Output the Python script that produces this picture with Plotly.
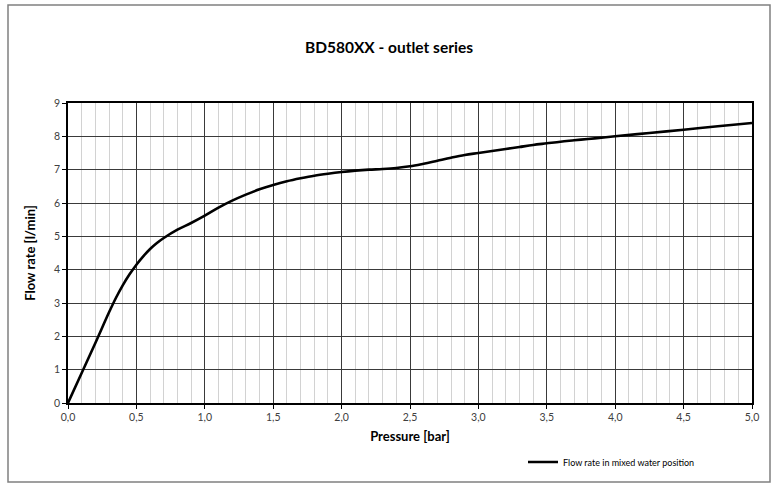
import plotly.graph_objects as go

pressure = [0, 0.1, 0.2, 0.3, 0.35, 0.4, 0.45, 0.5, 0.55, 0.6, 0.65, 0.7, 0.8, 0.9, 1.0,
            1.1, 1.2, 1.3, 1.4, 1.5, 1.6, 1.7, 1.8, 1.9, 2.0, 2.1, 2.2, 2.3, 2.4, 2.5,
            2.6, 2.7, 2.8, 2.9, 3.0, 3.1, 3.2, 3.3, 3.4, 3.5, 3.6, 3.7, 3.8, 3.9, 4.0,
            4.25, 4.5, 4.75, 5.0]
flow = [0, 0.9, 1.8, 2.72, 3.15, 3.53, 3.86, 4.15, 4.4, 4.62, 4.8, 4.95, 5.2, 5.4, 5.62,
        5.86, 6.07, 6.25, 6.41, 6.54, 6.65, 6.74, 6.82, 6.88, 6.93, 6.97, 7.0, 7.02, 7.05, 7.1,
        7.18, 7.27, 7.36, 7.44, 7.5, 7.56, 7.62, 7.68, 7.74, 7.79, 7.84, 7.88, 7.92, 7.96, 8.0,
        8.1, 8.2, 8.3, 8.4]

series_name = "Flow rate in mixed water position"
title = "BD580XX - outlet series"
x_title = "Pressure [bar]"
y_title = "Flow rate [l/min]"

FONT = "Lato"

fig = go.Figure()
fig.add_trace(go.Scatter(x=pressure, y=flow, mode="lines", name=series_name,
                         line=dict(color="black", width=2.6, shape="spline", smoothing=1)))

W, H = 780, 493
L, R, T, B = 68, 28, 103, 90
pw, ph = W - L - R, H - T - B

def px(xp):
    return (xp - L) / pw

def py(yp):
    return (H - B - yp) / ph

fig.update_layout(
    width=W, height=H,
    margin=dict(l=L, r=R, t=T, b=B),
    paper_bgcolor="white", plot_bgcolor="white",
    separators=",.",
    font=dict(family=FONT, color="#404040"),
    title=dict(text="<b>" + title + "</b>", x=389 / W, xref="container", xanchor="center",
               y=1 - 48 / H, yref="container", yanchor="middle",
               font=dict(family=FONT, size=15.5, color="black")),
    showlegend=True,
    legend=dict(x=px(523), y=py(462), xanchor="left", yanchor="middle",
                font=dict(family=FONT, size=9, color="black"),
                bgcolor="rgba(0,0,0,0)", itemwidth=30),
    xaxis=dict(range=[0, 5], dtick=0.5, tick0=0, tickformat=".1f",
               showgrid=True, gridcolor="#3a3a3a", gridwidth=1,
               minor=dict(dtick=0.1, showgrid=True, gridcolor="#d2d2d2", gridwidth=1.3),
               showline=True, linecolor="black", linewidth=1.5, mirror=True,
               ticks="outside", ticklen=4, tickcolor="black",
               zeroline=False, tickfont=dict(size=10.5, color="#404040"),
               title=dict(text="<b>" + x_title + "</b>", standoff=10,
                          font=dict(size=13, color="black"))),
    yaxis=dict(range=[0, 9], dtick=1, tick0=0,
               showgrid=True, gridcolor="#3a3a3a", gridwidth=1,
               showline=True, linecolor="black", linewidth=1.5, mirror=True,
               ticks="outside", ticklen=4, tickcolor="black",
               zeroline=False, tickfont=dict(size=10.5, color="#404040"),
               title=dict(text="<b>" + y_title + "</b>", standoff=16,
                          font=dict(size=13, color="black"))),
    shapes=[dict(type="rect", xref="paper", yref="paper",
                 x0=px(8), x1=px(770), y0=py(482), y1=py(5),
                 line=dict(color="#808080", width=1.5), layer="below")],
)

fig.write_html("out.html")
